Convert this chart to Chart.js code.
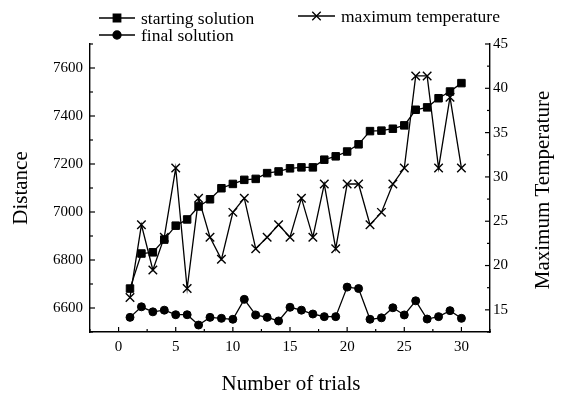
<!DOCTYPE html>
<html>
<head>
<meta charset="utf-8">
<script src="https://cdn.jsdelivr.net/npm/chart.js@4/dist/chart.umd.min.js"></script>
<style>
  body { margin: 0; background: #fff; }
</style>
</head>
<body>
<canvas id="chart" width="562" height="393"></canvas>
<script>
const trials = [1, 2, 3, 4, 5, 6, 7, 8, 9, 10, 11, 12, 13, 14, 15,
                16, 17, 18, 19, 20, 21, 22, 23, 24, 25, 26, 27, 28, 29, 30]
const startingSolution = [6681, 6827, 6832, 6885, 6943, 6969, 7023, 7053, 7099, 7117,
                          7134, 7138, 7162, 7169, 7182, 7186, 7186, 7218, 7232, 7252,
                          7282, 7337, 7339, 7347, 7361, 7426, 7436, 7474, 7502, 7537]
const finalSolution = [6561, 6605, 6584, 6591, 6572, 6572, 6529, 6561, 6557, 6553,
                       6636, 6571, 6561, 6546, 6603, 6591, 6575, 6564, 6564, 6687,
                       6681, 6553, 6559, 6601, 6571, 6630, 6554, 6564, 6589, 6557]
const maxTemperature = [16.4, 24.6, 19.5, 23.2, 31.0, 17.4, 27.6, 23.2, 20.7, 26.0,
                        27.6, 21.9, 23.2, 24.6, 23.2, 27.6, 23.2, 29.2, 21.9, 29.2,
                        29.2, 24.6, 26.0, 29.2, 31.0, 41.4, 41.4, 31.0, 39.0, 31.0]

const xTicks = [0, 5, 10, 15, 20, 25, 30]
const distanceTicks = [6600, 6800, 7000, 7200, 7400, 7600]
const tempTicks = [15, 20, 25, 30, 35, 40, 45]

const FONT = '"Liberation Serif", "Times New Roman", serif'

const toPoints = ys => ys.map((y, i) => ({ x: trials[i], y }))
const setTicks = vals => scale => { scale.ticks = vals.map(v => ({ value: v })) }
const plain = v => String(v)

// ticks, legend and axis titles drawn by hand (all ticks point inwards, minor ones shorter)
const decor = {
  id: 'decor',
  afterDraw(chart) {
    const ctx = chart.ctx
    const { left, right, bottom } = chart.chartArea
    ctx.save()
    ctx.strokeStyle = '#000'
    ctx.fillStyle = '#000'
    ctx.lineWidth = 1.2

    const marks = scale => {
      const vals = scale.ticks.map(t => t.value)
      const step = vals[1] - vals[0]
      const out = []
      for (let v = vals[0] - step / 2; v <= scale.max + 1e-6; v += step / 2) {
        if (v >= scale.min - 1e-6) out.push({ v, len: vals.some(m => Math.abs(m - v) < 1e-6) ? 5 : 3 })
      }
      return out
    }
    const line = (x1, y1, x2, y2) => { ctx.beginPath(); ctx.moveTo(x1, y1); ctx.lineTo(x2, y2); ctx.stroke() }

    const { x, y, y1 } = chart.scales
    marks(x).forEach(m => { const p = x.getPixelForValue(m.v); line(p, bottom, p, bottom - m.len) })
    marks(y).forEach(m => { const p = y.getPixelForValue(m.v); line(left, p, left + m.len, p) })
    marks(y1).forEach(m => { const p = y1.getPixelForValue(m.v); line(right, p, right - m.len, p) })

    // legend
    const items = [
      { ds: 0, x1: 99, x2: 135, y: 18 },
      { ds: 1, x1: 99, x2: 135, y: 35 },
      { ds: 2, x1: 298, x2: 335, y: 16 }
    ]
    ctx.font = '17.5px ' + FONT
    ctx.textBaseline = 'middle'
    ctx.textAlign = 'left'
    items.forEach(it => {
      const ds = chart.data.datasets[it.ds]
      ctx.lineWidth = 1.3
      line(it.x1, it.y, it.x2, it.y)
      Chart.helpers.drawPoint(ctx, {
        pointStyle: ds.pointStyle, radius: ds.pointRadius, rotation: 0, borderWidth: ds.pointBorderWidth
      }, (it.x1 + it.x2) / 2, it.y)
      ctx.fillText(ds.label, it.x2 + 6, it.y + 1)
    })

    // axis titles
    ctx.font = '21px ' + FONT
    ctx.textAlign = 'center'
    ctx.textBaseline = 'alphabetic'
    ctx.fillText('Number of trials', 291, 390)
    ctx.textBaseline = 'middle'
    ;[['Distance', 21, 188], ['Maximum Temperature', 543, 190]].forEach(([t, tx, ty]) => {
      ctx.save()
      ctx.translate(tx, ty)
      ctx.rotate(-Math.PI / 2)
      ctx.fillText(t, 0, 0)
      ctx.restore()
    })
    ctx.restore()
  }
}

const common = {
  borderColor: '#000',
  backgroundColor: '#000',
  pointBackgroundColor: '#000',
  pointBorderColor: '#000',
  borderWidth: 1.3,
  tension: 0
}

new Chart(document.getElementById('chart'), {
  type: 'line',
  data: {
    datasets: [
      { ...common, label: 'starting solution', data: toPoints(startingSolution), yAxisID: 'y',
        pointStyle: 'rect', pointRadius: 5.3, pointBorderWidth: 1 },
      { ...common, label: 'final solution', data: toPoints(finalSolution), yAxisID: 'y',
        pointStyle: 'circle', pointRadius: 4, pointBorderWidth: 1 },
      { ...common, label: 'maximum temperature', data: toPoints(maxTemperature), yAxisID: 'y1',
        pointStyle: 'crossRot', pointRadius: 6, pointBorderWidth: 1.4 }
    ]
  },
  options: {
    responsive: false,
    animation: false,
    layout: { padding: { top: 44, left: 0, right: 0, bottom: 0 } },
    plugins: { legend: { display: false }, tooltip: { enabled: false } },
    scales: {
      x: {
        type: 'linear', position: 'bottom', min: -2.5, max: 32.5,
        afterBuildTicks: setTicks(xTicks),
        afterFit: s => { s.height = 61 },
        grid: { display: false, drawTicks: false },
        border: { display: true, color: '#000', width: 1.4 },
        ticks: { color: '#000', font: { family: FONT, size: 15 }, padding: 6, maxRotation: 0, callback: plain }
      },
      y: {
        type: 'linear', position: 'left', min: 6500, max: 7700,
        afterBuildTicks: setTicks(distanceTicks),
        afterFit: s => { s.width = 90 },
        grid: { display: false, drawTicks: false },
        border: { display: true, color: '#000', width: 1.4 },
        ticks: { color: '#000', font: { family: FONT, size: 15 }, padding: 7, callback: plain }
      },
      y1: {
        type: 'linear', position: 'right', min: 12.5, max: 45,
        afterBuildTicks: setTicks(tempTicks),
        afterFit: s => { s.width = 72 },
        grid: { display: false, drawTicks: false },
        border: { display: true, color: '#000', width: 1.4 },
        ticks: { color: '#000', font: { family: FONT, size: 15 }, padding: 3, callback: plain }
      }
    }
  },
  plugins: [decor]
})
</script>
</body>
</html>
